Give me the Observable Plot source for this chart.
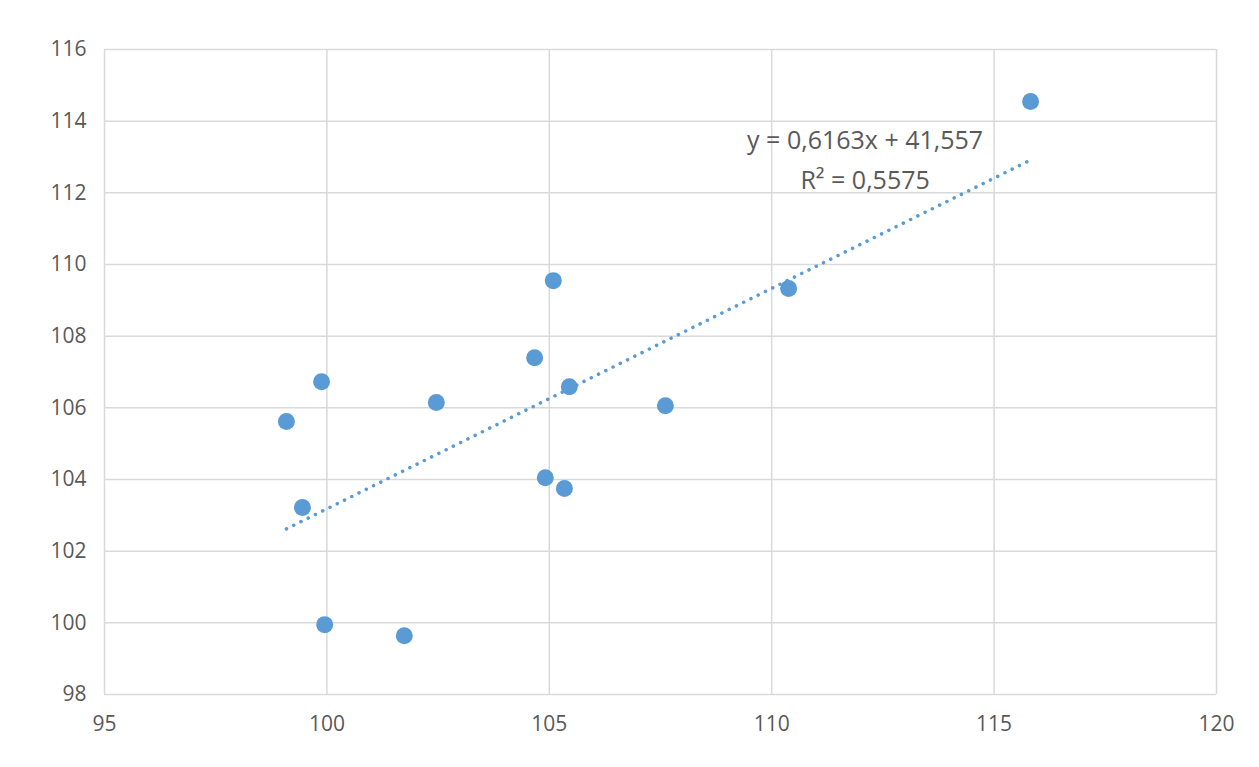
<!DOCTYPE html>
<html><head><meta charset="utf-8">
<script src="https://cdn.jsdelivr.net/npm/d3@7"></script>
<script src="https://cdn.jsdelivr.net/npm/@observablehq/plot@0.6"></script>
<style>body{margin:0;background:#fff}</style>
</head><body><div id="c"></div>
<script>
const xs = [99.09, 99.88, 99.45, 99.95, 101.74, 102.46, 104.67, 104.91, 105.09, 105.34, 105.45, 107.61, 110.38, 115.82];
const ys = [105.62, 106.73, 103.22, 99.95, 99.64, 106.15, 107.40, 104.05, 109.55, 103.75, 106.59, 106.06, 109.33, 114.55];
const xTicks = [95, 100, 105, 110, 115, 120];
const yTicks = [98, 100, 102, 104, 106, 108, 110, 112, 114, 116];
const labels = ["y = 0,6163x + 41,557", "R² = 0,5575"];
const data = xs.map((x, i) => ({x, y: ys[i]}));
const chart = Plot.plot({
  width: 1259, height: 767,
  marginLeft: 104, marginRight: 43, marginTop: 49, marginBottom: 73,
  style: {fontFamily: "Open Sans, sans-serif", color: "#595959"},
  x: {domain: [95, 120], label: null},
  y: {domain: [98, 116], label: null},
  marks: [
    Plot.gridX(xTicks, {stroke: "#d9d9d9", strokeOpacity: 1, strokeWidth: 1.5}),
    Plot.gridY(yTicks, {stroke: "#d9d9d9", strokeOpacity: 1, strokeWidth: 1.5}),
    Plot.axisX(xTicks, {tickSize: 0, tickPadding: 22, fontSize: 21, fill: "#595959", label: null}),
    Plot.axisY(yTicks, {tickSize: 0, tickPadding: 18, fontSize: 21, fill: "#595959", label: null}),
    Plot.linearRegressionY(data, {x: "x", y: "y", ci: 0, stroke: "#5b9bd5", strokeWidth: 3.5, strokeDasharray: "0.1 8", strokeLinecap: "round"}),
    Plot.dot(data, {x: "x", y: "y", r: 8.5, fill: "#5b9bd5"}),
    Plot.text([labels[0]], {x: 112.1, y: 113.46, text: d => d, fontSize: 25, fill: "#595959"}),
    Plot.text([labels[1]], {x: 112.1, y: 112.34, text: d => d, fontSize: 25, fill: "#595959"})
  ]
});
document.getElementById("c").appendChild(chart);
</script></body></html>
